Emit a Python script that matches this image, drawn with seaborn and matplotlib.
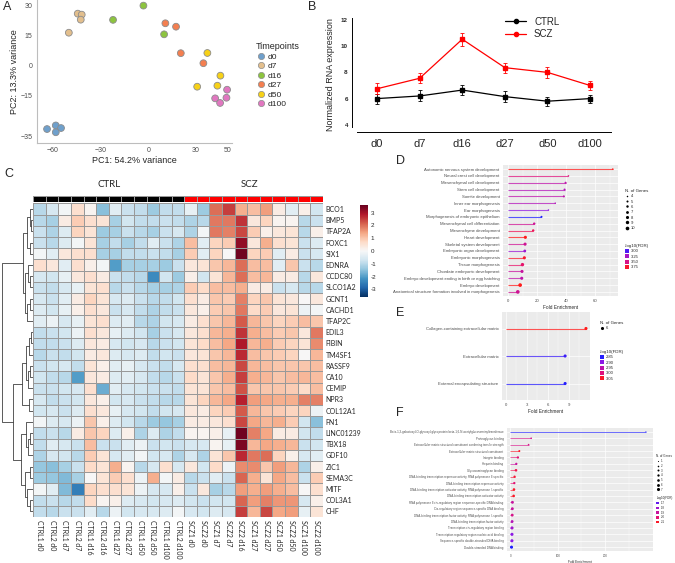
import numpy as np
import pandas as pd
import matplotlib.pyplot as plt
import seaborn as sns
from matplotlib.colors import LinearSegmentedColormap, ListedColormap, Normalize
from matplotlib.lines import Line2D
from matplotlib.patches import Patch

sns.set_style("white")
plt.rcParams["font.family"] = ["Liberation Sans", "DejaVu Sans"]

# === data: A, PCA of samples ===
timepoints = ["d0", "d7", "d16", "d27", "d50", "d100"]
tp_colors = ["#6FA0CC", "#E3BF8D", "#8DC43F", "#F47F50", "#F7D117", "#E177C0"]
pc_timepoint = ["d0"] * 4 + ["d7"] * 4 + ["d16"] * 3 + ["d27"] * 4 + ["d50"] * 4 + ["d100"] * 4
pc1 = [-63.6, -58.1, -54.8, -58.1, -44.3, -41.8, -42.4, -49.9, -3.0, -22.1, 10.0,
       10.8, 17.5, 20.5, 34.7, 37.2, 45.4, 43.5, 30.8, 49.6, 42.1, 49.2, 45.2]
pc2 = [-31.5, -29.7, -31.0, -33.1, 26.0, 25.5, 23.0, 16.5, 30.0, 22.9, 15.7,
       21.2, 19.5, 6.3, 1.3, 6.4, -4.9, -9.9, -10.4, -11.9, -16.2, -15.9, -18.5]
a_xticks = [-60, -30, 0, 30, 50]
a_yticks = [-35, -15, 0, 15, 30]

# === data: B, expression over time ===
ctrl_mean = [6.0, 6.2, 6.65, 6.15, 5.8, 6.0]
ctrl_err = [0.38, 0.42, 0.38, 0.42, 0.35, 0.3]
scz_mean = [6.75, 7.55, 10.53, 8.36, 8.0, 7.0]
scz_err = [0.42, 0.38, 0.5, 0.38, 0.4, 0.35]
b_yticks = [4, 6, 8, 10, 12]

# === data: C, heatmap ===
samples = ["CTRL1 d0", "CTRL2 d0", "CTRL1 d7", "CTRL2 d7", "CTRL1 d16", "CTRL2 d16",
           "CTRL1 d27", "CTRL2 d27", "CTRL1 d50", "CTRL2 d50", "CTRL1 d100", "CTRL2 d100",
           "SCZ1 d0", "SCZ2 d0", "SCZ1 d7", "SCZ2 d7", "SCZ2 d16", "SCZ1 d27", "SCZ2 d27",
           "SCZ1 d50", "SCZ2 d50", "SCZ1 d100", "SCZ2 d100"]
group = [0] * 12 + [1] * 11
genes = ["BCO1", "BMP5", "TFAP2A", "FOXC1", "SIX1", "EDNRA", "CCDC80", "SLCO1A2", "GCNT1",
         "CACHD1", "TFAP2C", "EDIL3", "FIBIN", "TM4SF1", "RASSF9", "CA10", "CEMIP", "NPR3",
         "COL12A1", "FN1", "LINC01239", "TBX18", "GDF10", "ZIC1", "SEMA3C", "MITF", "COL3A1", "CHF"]
z = [
    [-1.0, -0.6, -0.1, 0.6, 0.1, -1.5, -0.4, -0.8, -0.9, -1.3, -0.9, -0.9, -0.3, -1.3, 2.0, 2.5, 1.3, 1.1, 1.5, 0.3, -0.4, 0.2, -0.7],
    [-1.0, -1.2, 0.3, 0.9, 0.6, 0.5, -1.2, -0.7, -0.9, -0.9, -0.8, -0.9, -1.1, -1.0, 1.9, 1.9, 2.6, 0.4, 0.8, 0.1, 0.1, -1.0, -0.8],
    [-0.8, -1.1, -0.5, 0.8, 0.5, -1.3, -1.2, -0.8, -1.0, -1.2, -0.8, -0.6, -1.1, -0.1, 1.9, 1.8, 2.4, 0.9, 0.2, 0.4, 0.5, -1.0, 0.2],
    [-0.8, -1.0, -0.5, -0.1, 0.5, -1.2, -0.9, -1.2, -0.9, -0.4, -0.8, -1.1, 1.1, -0.4, 0.8, 0.9, 3.2, 0.4, 1.3, 0.6, 0.5, -0.8, -0.5],
    [-0.1, -0.4, 0.4, 0.6, 0.6, -1.2, -1.2, -0.9, -0.9, -0.8, -0.9, -1.2, 0.9, -0.4, 0.8, 0.0, 3.5, 0.8, 0.9, -0.4, 0.3, -0.8, -0.6],
    [0.6, 0.4, -0.4, 0.6, 0.2, -0.1, -2.0, -1.2, -1.2, -1.2, -1.3, -0.8, 0.4, 0.5, 1.0, 1.2, 2.0, 1.1, 1.1, -0.4, 1.0, -0.8, -1.0],
    [-0.6, -0.7, -0.3, 0.4, 0.6, 0.3, -0.8, -0.9, -1.0, -2.3, -0.7, -1.3, 0.2, -0.7, 0.5, 1.2, 2.0, 1.1, 1.2, 0.3, 0.3, -1.0, 0.4],
    [-0.8, -0.9, -0.6, -0.3, 0.5, 0.6, -1.0, -0.8, -1.0, -1.2, -1.2, -1.1, 0.9, 0.7, 1.1, 1.1, 1.3, 0.3, 0.3, -0.8, -0.6, -1.0, -1.0],
    [-0.6, -0.8, -0.4, 0.3, 0.8, 0.5, -0.6, -0.5, -0.8, -1.0, -0.9, -0.7, 0.6, 0.3, 1.0, 0.9, 1.8, 0.8, 1.0, 0.5, 0.4, 0.0, 0.4],
    [-0.5, -0.7, -0.3, 0.2, 0.6, 0.4, -0.8, -0.6, -0.9, -1.1, -0.9, -0.8, 0.4, 0.2, 0.9, 1.0, 1.9, 0.7, 0.9, 0.4, 0.5, -0.2, -0.1],
    [-0.4, -0.2, -0.6, -0.3, 0.5, 0.6, -0.5, -0.4, -1.0, -1.1, -0.7, -0.6, 0.3, 0.6, 1.0, 1.2, 2.2, 1.2, 1.0, 0.8, 0.9, 1.1, 1.0],
    [-0.9, -0.8, -0.7, -0.2, 0.6, 0.4, -0.3, -0.5, -0.7, -1.2, -0.8, -0.6, 0.4, 0.6, 1.2, 1.3, 2.6, 1.3, 1.1, 0.9, 1.0, 0.4, 1.9],
    [-0.9, -0.9, -0.8, -0.5, 0.4, 0.3, -0.6, -0.7, -0.6, -1.0, -0.8, -0.7, 0.5, 0.7, 1.1, 1.4, 2.9, 1.2, 1.3, 0.9, 0.8, 0.5, 1.7],
    [-1.0, -0.8, -0.9, -0.7, 0.3, 0.4, -0.5, -0.6, -0.5, -0.9, -0.7, -0.8, 0.4, 0.5, 1.0, 1.2, 2.7, 1.1, 1.0, 0.9, 0.8, 0.0, 1.2],
    [-0.8, -0.7, -0.6, -0.9, 0.5, 0.2, -0.4, -0.3, -0.6, -0.8, -0.9, -0.6, 0.6, 0.6, 1.1, 1.2, 2.4, 1.2, 1.1, 1.0, 1.0, 1.0, 1.1],
    [-0.7, -0.9, -1.0, -2.0, 0.4, 0.3, -0.5, -0.4, -0.6, -0.9, -1.0, -0.8, 0.7, 0.5, 1.0, 1.3, 2.5, 1.3, 1.2, 1.0, 1.1, 1.2, 1.1],
    [-0.8, -0.8, -0.7, -0.6, 0.6, -1.8, -0.4, -0.6, -0.7, -0.8, -0.8, -0.9, 0.5, 0.5, 1.0, 1.1, 2.3, 1.0, 1.0, 1.0, 0.9, 0.7, 1.1],
    [-0.6, -0.9, -0.8, -0.7, 0.4, 0.2, -0.7, -0.6, -0.8, -0.9, -1.0, -1.0, 0.5, 0.8, 1.2, 1.4, 2.8, 1.5, 1.4, 1.3, 1.3, 1.8, 1.8],
    [-0.7, -0.6, -0.8, -0.5, 0.6, 0.4, -0.3, -0.6, -0.7, -0.9, -0.7, -0.6, 0.4, 0.3, 0.8, 0.9, 2.2, 1.2, 1.0, 0.9, 0.8, 0.8, -0.2],
    [-0.1, -0.5, -0.6, -0.2, 1.0, 0.2, -0.5, -0.7, -1.0, -1.3, -1.4, -1.2, 0.3, 0.3, 0.4, 0.6, 2.4, 1.4, 1.2, 1.3, 0.9, -0.7, -1.5],
    [-0.9, -0.8, -1.0, 0.3, 1.0, 0.8, -0.5, 0.2, -1.1, -0.5, -1.1, -0.9, 0.1, 0.1, 0.2, -0.3, 3.5, 1.8, 1.4, 0.3, 0.3, -0.7, -0.9],
    [-0.9, -0.4, -0.6, -0.8, 1.1, -0.8, -0.8, -0.4, -0.2, -0.8, -0.7, -0.8, -0.6, -0.6, 0.1, -0.3, 3.4, 1.2, 1.4, 1.3, 1.2, -0.8, -0.7],
    [-1.1, -0.6, -0.7, -1.0, 0.9, 0.5, -0.6, -0.4, -0.1, -0.7, -0.6, -1.1, -0.6, -1.1, 0.5, 1.0, 2.7, 1.9, 2.0, 0.8, 0.2, -0.6, -0.4],
    [-1.4, -1.5, -1.2, -0.8, 0.7, 0.5, 1.3, 0.1, -1.0, -0.6, 0.6, -0.6, 0.4, -0.7, 0.7, -0.2, 1.7, 1.7, 1.0, 1.5, 1.2, -1.1, 0.2],
    [-1.3, -1.4, -1.6, -1.2, 0.0, 0.5, 0.9, 0.6, -0.2, 1.3, -0.1, 0.3, -1.0, -0.8, -0.4, -0.8, 2.1, 1.3, 0.5, 1.4, 1.1, -0.8, 0.9],
    [-0.1, -0.4, -1.6, -2.5, 0.8, 0.6, 0.6, 0.5, -0.2, -0.6, -0.6, 0.2, -0.8, 0.4, -1.2, -1.0, 1.5, 1.3, 1.5, 1.3, 1.1, 0.0, 0.6],
    [-0.9, -0.8, -1.0, -0.9, 0.7, 0.1, 0.2, -0.5, -0.6, -0.7, -0.6, -0.5, -0.7, -0.8, -0.7, -0.7, 2.1, 1.5, 1.8, 1.6, 1.6, -0.6, 0.2],
    [-0.9, -1.0, -0.8, -0.8, -0.4, -1.0, -0.2, -0.7, -0.6, -0.6, -0.5, -0.1, -0.6, -0.7, -0.5, -0.6, 2.5, 1.2, 2.4, 1.4, 1.5, -0.3, 0.5],
]
# row dendrogram: (merge height, left, right), leaves are row indices
row_tree = (31.5,
            (10.5, (6, (3.5, 0, (2.5, 1, 2)), (3, 3, 4)),
                   (8, (5.5, 5, (3, 6, 7)), (6, (3.5, 8, 9), 10))),
            (20, (11, (7, (4, (2.5, 11, 12), 13), (5, (3, 14, 15), 16)), (4, 17, 18)),
                 (12, (7.5, 19, (5, (3, 20, 21), 22)), (8, (3.5, 23, 24), (6, 25, (3, 26, 27))))))

# === data: D/E/F, enrichment lollipops ===
d_terms = ["Autonomic nervous system development", "Neural crest cell development",
           "Mesenchymal cell development", "Stem cell development", "Somite development",
           "Inner ear morphogenesis", "Ear morphogenesis", "Morphogenesis of embryonic epithelium",
           "Mesenchymal cell differentiation", "Mesenchyme development", "Heart development",
           "Skeletal system development", "Embryonic organ development", "Embryonic morphogenesis",
           "Tissue morphogenesis", "Chordate embryonic development",
           "Embryo development ending in birth or egg hatching", "Embryo development",
           "Anatomical structure formation involved in morphogenesis"]
d_fold = [72, 41.5, 39.5, 38.8, 38.3, 32.4, 27.7, 22.9, 17.9, 17.2, 11.8, 11.6, 11.4, 11.1, 9.8, 9.5, 9.3, 8.2, 6.6]
d_genes = [4, 4, 5, 5, 5, 4, 4, 5, 6, 6, 8, 8, 7, 8, 9, 8, 8, 10, 10]
d_fdr = [3.8, 3.55, 3.35, 3.3, 3.35, 3.3, 3.15, 2.9, 3.45, 3.65, 3.8, 3.45, 3.2, 3.75, 3.6, 3.4, 3.35, 3.8, 3.45]
d_xticks = [0, 20, 40, 60]

e_terms = ["Collagen-containing extracellular matrix", "Extracellular matrix", "External encapsulating structure"]
e_fold = [11.5, 8.5, 8.5]
e_genes = [6, 6, 6]
e_fdr = [3.06, 2.86, 2.85]
e_xticks = [0, 3, 6, 9]

f_terms = ["Beta-1,3-galactosyl-O-glycosyl-glycoprotein beta-1,6-N-acetylglucosaminyltransferase",
           "Proteoglycan binding",
           "Extracellular matrix structural constituent conferring tensile strength",
           "Extracellular matrix structural constituent", "Integrin binding", "Heparin binding",
           "Glycosaminoglycan binding",
           "DNA-binding transcription repressor activity, RNA polymerase II-specific",
           "DNA-binding transcription repressor activity",
           "DNA-binding transcription activator activity, RNA polymerase II-specific",
           "DNA-binding transcription activator activity",
           "RNA polymerase II cis-regulatory region sequence-specific DNA binding",
           "Cis-regulatory region sequence-specific DNA binding",
           "DNA-binding transcription factor activity, RNA polymerase II-specific",
           "DNA-binding transcription factor activity", "Transcription cis-regulatory region binding",
           "Transcription regulatory region nucleic acid binding",
           "Sequence-specific double-stranded DNA binding", "Double-stranded DNA binding"]
f_fold = [286, 44, 38.5, 19, 16, 12.6, 12, 9, 8.4, 7.7, 7, 4.5, 4.3, 4.0, 3.8, 3.6, 3.5, 3.4, 2.5]
f_genes = [1, 2, 2, 3, 4, 4, 5, 4, 4, 5, 5, 6, 6, 6, 6, 7, 7, 7, 7]
f_fdr = [1.62, 1.95, 1.95, 2.1, 2.0, 1.9, 2.05, 2.08, 2.0, 2.1, 2.1, 1.9, 1.9, 1.95, 1.85, 1.8, 1.75, 1.75, 1.62]
f_xticks = [0, 100, 200]

W, H = 675, 563
fig = plt.figure(figsize=(6.75, 5.63), dpi=100)


def px_box(x0, y0, x1, y1):
    # pixel box with top-left origin -> figure rect
    return [x0 / W, 1 - y1 / H, (x1 - x0) / W, (y1 - y0) / H]


def fxy(x, y):
    return (x / W, 1 - y / H)


for letter, (lx, ly) in zip("ABCDEF", [(3, 1), (308, 1), (4, 168), (396, 155), (396, 307), (396, 407)]):
    fig.text(*fxy(lx, ly), letter, fontsize=9, va="top", ha="left")

# === A. PCA scatter ===
ax_a = fig.add_axes(px_box(36.7, 0, 231.7, 143.3))
pca = pd.DataFrame({"PC1": pc1, "PC2": pc2, "Timepoints": pc_timepoint})
sns.scatterplot(data=pca, x="PC1", y="PC2", hue="Timepoints", hue_order=timepoints,
                palette=tp_colors, s=24, edgecolor="#8C8C8C", linewidth=0.6, ax=ax_a, legend=False)
ax_a.set_xlim(-70.1, 52.5)
ax_a.set_ylim(-38.6, 32.8)
ax_a.set_xticks(a_xticks)
ax_a.set_yticks(a_yticks)
for s in ["top", "right"]:
    ax_a.spines[s].set_visible(False)
for s in ["left", "bottom"]:
    ax_a.spines[s].set_color("#BDBDBD")
    ax_a.spines[s].set_linewidth(0.8)
ax_a.tick_params(length=2, width=0.6, color="#BDBDBD", labelsize=5, labelcolor="#4D4D4D", pad=1)
ax_a.set_xlabel("PC1: 54.2% variance", fontsize=6.5, labelpad=1)
ax_a.set_ylabel("PC2: 13.3% variance", fontsize=6.5, labelpad=1)
a_handles = [Line2D([], [], marker="o", ls="", markersize=4.5, markerfacecolor=c,
                    markeredgecolor="#8C8C8C", markeredgewidth=0.5) for c in tp_colors]
ax_a.legend(a_handles, timepoints, title="Timepoints", loc="upper left",
            bbox_to_anchor=fxy(252, 38), bbox_transform=fig.transFigure, frameon=False,
            fontsize=6, title_fontsize=6.5, labelspacing=0.2, handletextpad=0.2,
            handlelength=1.2, borderpad=0, alignment="left")

# === B. Normalized expression ===
ax_b = fig.add_axes(px_box(352, 18, 611, 132))
xpos = np.arange(len(timepoints))
ax_b.errorbar(xpos, ctrl_mean, yerr=ctrl_err, color="black", marker="s", markersize=2.2,
              lw=0.9, capsize=1.5, elinewidth=0.6, capthick=0.6)
ax_b.errorbar(xpos, scz_mean, yerr=scz_err, color="red", marker="s", markersize=2.2,
              lw=0.9, capsize=1.5, elinewidth=0.6, capthick=0.6)
ax_b.set_xlim(-0.587, 5.49)
ax_b.set_ylim(3.45, 12.15)
ax_b.set_xticks(xpos)
ax_b.set_xticklabels(timepoints)
ax_b.set_yticks(b_yticks)
for s in ["top", "right"]:
    ax_b.spines[s].set_visible(False)
for s in ["left", "bottom"]:
    ax_b.spines[s].set_color("black")
    ax_b.spines[s].set_linewidth(0.7)
ax_b.spines["left"].set_bounds(3.8, 12.15)
ax_b.spines["bottom"].set_bounds(-0.47, 5.49)
ax_b.tick_params(axis="y", length=2, width=0.6, labelsize=4.5, pad=1)
ax_b.tick_params(axis="x", length=2, width=0.6, labelsize=8, pad=3)
for t in ax_b.get_yticklabels():
    t.set_fontweight("bold")
ax_b.set_ylabel("Normalized RNA expression", fontsize=6.5, labelpad=4)
b_handles = [Line2D([], [], color=c, lw=0.9, marker="o", markersize=3) for c in ["black", "red"]]
ax_b.legend(b_handles, ["CTRL", "SCZ"], loc="upper left", bbox_to_anchor=fxy(500, 12),
            bbox_transform=fig.transFigure, frameon=False, fontsize=7, handlelength=2.2,
            labelspacing=0.25, borderpad=0)

# === C. Heatmap with row dendrogram ===
hm = pd.DataFrame(z, index=genes, columns=samples)
ax_ann = fig.add_axes(px_box(33.3, 195.7, 322.7, 201.7))
ax_hm = fig.add_axes(px_box(33.3, 203.3, 322.7, 517))
ax_cb = fig.add_axes(px_box(360, 205, 368, 297))
ax_den = fig.add_axes(px_box(0, 203.3, 33.3, 517))

sns.heatmap(pd.DataFrame([group], columns=samples), ax=ax_ann, cmap=ListedColormap(["black", "red"]),
            cbar=False, linewidths=0.5, linecolor="#999999", xticklabels=False, yticklabels=False)
sns.heatmap(hm, ax=ax_hm, cmap="RdBu_r", vmin=-3.6, vmax=3.6, linewidths=0.5, linecolor="#999999",
            cbar_ax=ax_cb, xticklabels=True, yticklabels=True)
ax_hm.yaxis.tick_right()
ax_hm.tick_params(length=0, pad=2)
ax_hm.set_yticklabels(genes, rotation=0, fontsize=5, family=["Lato", "DejaVu Sans"])
ax_hm.set_xticklabels(samples, rotation=270, fontsize=5, family=["Lato", "DejaVu Sans"], va="top")
ax_hm.set_xlabel("")
ax_hm.set_ylabel("")
ax_cb.tick_params(length=0, labelsize=4.5, pad=2)
ax_cb.set_yticks([-3, -2, -1, 0, 1, 2, 3])
ax_cb.set_yticklabels(["-3", "-2", "-1", "0", "1", "2", "3"])

ax_hm.text(6.0, -1.3, "CTRL", ha="center", va="bottom", fontsize=7, family=["Lato", "DejaVu Sans"])
ax_hm.text(17.2, -1.3, "SCZ", ha="center", va="bottom", fontsize=7, family=["Lato", "DejaVu Sans"])


def draw_tree(ax, node):
    if isinstance(node, int):
        return node + 0.5, 0.0
    h, left, right = node
    y1, h1 = draw_tree(ax, left)
    y2, h2 = draw_tree(ax, right)
    ax.plot([h1, h, h, h2], [y1, y1, y2, y2], color="#404040", lw=0.6)
    return (y1 + y2) / 2, h


draw_tree(ax_den, row_tree)
ax_den.set_xlim(33.3, 0)
ax_den.set_ylim(len(genes), 0)
ax_den.axis("off")

# === D/E/F. Enrichment lollipops (ggplot look) ===
fdr_cmap = LinearSegmentedColormap.from_list(
    "fdr", ["#1E1EFF", "#8A1AE6", "#BE14AA", "#E21276", "#FF1A1A"])


def lollipop(box, terms, fold, n_genes, fdr, fdr_lim, sizes, xlim, xticks, minor, fs, lw,
             size_levels, fdr_levels, leg1, leg2, leg_fs):
    ax = fig.add_axes(px_box(*box))
    ax.set_facecolor("#EBEBEB")
    norm = Normalize(*fdr_lim)
    df = pd.DataFrame({"term": terms, "fold": fold, "genes": n_genes, "fdr": fdr})
    pos = np.arange(len(df))
    for x in minor:
        ax.axvline(x, color="white", lw=0.25, zorder=0)
    for x in xticks:
        ax.axvline(x, color="white", lw=0.5, zorder=0)
    for y in pos:
        ax.axhline(y, color="white", lw=0.5, zorder=0)
    ax.hlines(pos, 0, df["fold"], colors=fdr_cmap(norm(df["fdr"])), lw=lw, alpha=0.75, zorder=2)
    size_norm = (min(size_levels), max(size_levels)) if len(size_levels) > 1 else None
    sns.scatterplot(x=df["fold"], y=pos, hue=df["fdr"], palette=fdr_cmap, hue_norm=norm,
                    size=df["genes"], sizes=sizes, size_norm=size_norm, ax=ax, legend=False,
                    edgecolor="none", zorder=3)
    ax.set_xlim(*xlim)
    ax.set_ylim(len(df) - 0.4, -0.6)
    ax.set_xticks(xticks)
    ax.set_yticks(pos)
    ax.set_yticklabels(terms)
    ax.grid(False)
    for s in ax.spines.values():
        s.set_visible(False)
    ax.tick_params(length=1.5, width=0.3, color="#333333", labelsize=fs, labelcolor="#4D4D4D", pad=1)
    ax.set_xlabel("Fold Enrichment", fontsize=fs * 1.1, labelpad=1)
    ax.set_ylabel("")
    # legends
    smin, smax = sizes
    if len(size_levels) > 1:
        ms = [np.sqrt(smin + (v - size_levels[0]) / (size_levels[-1] - size_levels[0]) * (smax - smin))
              for v in size_levels]
    else:
        ms = [np.sqrt(smax)]
    h1 = [Line2D([], [], marker="o", ls="", color="black", markersize=m, markeredgewidth=0) for m in ms]
    h2 = [Patch(facecolor=fdr_cmap(norm(v)), edgecolor="none") for v in fdr_levels]
    lab2 = ["%.2f" % v if fdr_lim[0] > 2.5 else "%.1f" % v for v in fdr_levels]
    kw = dict(loc="upper left", bbox_transform=fig.transFigure, frameon=False, fontsize=leg_fs,
              title_fontsize=leg_fs * 1.05, borderpad=0, handlelength=1.0, handleheight=1.0,
              handletextpad=0.4, labelspacing=0.25, alignment="left")
    l1 = ax.legend(h1, [str(v) for v in size_levels], title="N. of Genes", bbox_to_anchor=fxy(*leg1), **kw)
    ax.add_artist(l1)
    ax.legend(h2, lab2, title="-log10(FDR)", bbox_to_anchor=fxy(*leg2), **kw)
    return ax


lollipop((503, 165, 618, 296), d_terms, d_fold, d_genes, d_fdr, (2.9, 3.8), (1.2, 7),
         (-3.6, 75.6), d_xticks, [10, 30, 50, 70], 3.1, 0.8,
         [4, 5, 6, 7, 8, 9, 10], [3.00, 3.25, 3.50, 3.75], (623, 187), (623, 242), 3.0)
lollipop((502, 312, 590, 400), e_terms, e_fold, e_genes, e_fdr, (2.845, 3.06), (5, 5),
         (-0.575, 12.08), e_xticks, [1.5, 4.5, 7.5, 10.5], 3.1, 0.8,
         [6], [2.85, 2.90, 2.95, 3.00, 3.05], (598, 319), (598, 348), 3.0)
lollipop((507, 428, 653, 551), f_terms, f_fold, f_genes, f_fdr, (1.62, 2.12), (0.6, 5),
         (-7, 301), f_xticks, [50, 150, 250], 2.1, 0.6,
         [1, 2, 3, 4, 5, 6, 7], [1.7, 1.8, 1.9, 2.0, 2.1], (655, 453), (655, 495), 2.1)

fig.savefig("out.png", dpi=100)
